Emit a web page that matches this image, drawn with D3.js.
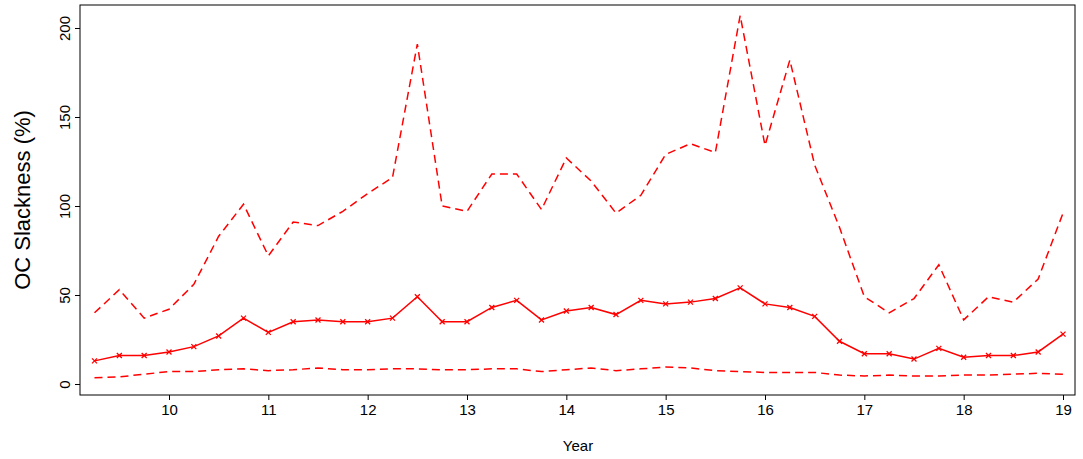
<!DOCTYPE html><html><head><script src="https://cdn.jsdelivr.net/npm/d3@7"></script>
<style>body{margin:0;background:#fff}text{font-family:"Liberation Sans",Arial,sans-serif}</style></head><body><svg id="c" width="1083" height="459"></svg>
<script>
const years=[];for(let i=0;i<40;i++)years.push(9.25+i*0.25);
const upper=[40,53,37,42,56,83,101,72,91,89,97,107,116,191,100,97,118,118,98,127,114,96,106,129,135,130,207,134,182,123,88,49,40,48,67,36,49,46,59,96];
const middle=[13,16,16,18,21,27,37,29,35,36,35,35,37,49,35,35,43,47,36,41,43,39,47,45,46,48,54,45,43,38,24,17,17,14,20,15,16,16,18,28];
const lower=[3.5,4,5.5,7,7,8,8.5,7.5,8,9,8,8,8.5,8.5,8,8,8.5,8.5,7,8,9,7.5,8.5,9.5,9,7.5,7,6.5,6.5,6.5,5,4.5,5,4.5,4.5,5,5,5.5,6,5.5];
const xTicks=[10,11,12,13,14,15,16,17,18,19], yTicks=[0,50,100,150,200];
const svg=d3.select("#c");
const L=80,R=1075,T=5,B=395;
const x=d3.scaleLinear().domain([10,19]).range([169,1063]);
const y=d3.scaleLinear().domain([0,200]).range([384,28]);
svg.append("rect").attr("x",L).attr("y",T).attr("width",R-L).attr("height",B-T).attr("fill","none").attr("stroke","#000");
svg.append("g").attr("transform",`translate(0,${B})`).call(d3.axisBottom(x).tickValues(xTicks).tickSize(5).tickPadding(4)).call(g=>{g.select(".domain").remove();g.selectAll("text").attr("font-size",15).attr("fill","#000");});
const ya=svg.append("g").attr("transform",`translate(${L},0)`).call(d3.axisLeft(y).tickValues(yTicks).tickSize(5));
ya.select(".domain").remove();
ya.selectAll("text").attr("font-size",15).attr("fill","#000").attr("text-anchor","middle").attr("x",0).attr("y",0).attr("dy",0).attr("transform","translate(-10,0) rotate(-90)");
svg.append("text").attr("x",578).attr("y",451).attr("text-anchor","middle").attr("font-size",15).text("Year");
svg.append("text").attr("transform","translate(30,200) rotate(-90)").attr("text-anchor","middle").attr("font-size",22).text("OC Slackness (%)");
const line=d3.line().x((d,i)=>x(years[i])).y(d=>y(d));
[[upper,"8,5"],[lower,"8,5"],[middle,null]].forEach(([s,da])=>{
 svg.append("path").attr("d",line(s)).attr("fill","none").attr("stroke","#f00").attr("stroke-width",1.5).attr("stroke-dasharray",da);
});
svg.selectAll(".m").data(middle).enter().append("path").attr("d","M-2.5,-2.5L2.5,2.5M-2.5,2.5L2.5,-2.5").attr("transform",(d,i)=>`translate(${x(years[i])},${y(d)})`).attr("stroke","#f00").attr("stroke-width",1.3);
</script></body></html>
